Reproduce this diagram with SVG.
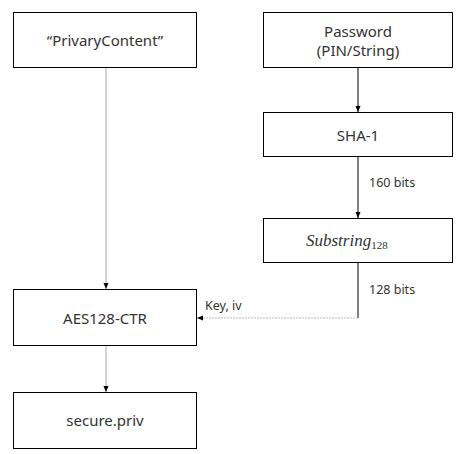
<svg xmlns="http://www.w3.org/2000/svg" width="468" height="454" viewBox="0 0 468 454">
<style>
.box{fill:#fff;stroke:#000;stroke-width:1}
.t{font-family:"Noto Sans","Open Sans",sans-serif;font-size:15px;fill:#333;text-anchor:middle;dominant-baseline:central}
.l{font-family:"Noto Sans","Open Sans",sans-serif;font-size:12.5px;fill:#333;dominant-baseline:central}
.m{font-family:"Liberation Serif","DejaVu Serif",serif;font-style:italic;font-size:17px;fill:#333}
.blk{stroke:#000;stroke-width:1;fill:none}
.gry{stroke:#aaa;stroke-width:1;fill:none}
.dot{stroke:#bbb;stroke-width:1;fill:none;stroke-dasharray:2 1}
</style>
<defs>
<marker id="ah" markerWidth="8" markerHeight="8" refX="7" refY="4" orient="auto" markerUnits="userSpaceOnUse">
<path d="M1,1.5 L7,4 L1,6.5 Z" fill="#000"/>
</marker>
</defs>
<g id="connectors">
<line class="gry" x1="106" y1="67" x2="106" y2="289" marker-end="url(#ah)"/>
<line class="blk" x1="358" y1="67" x2="358" y2="112" marker-end="url(#ah)"/>
<line class="blk" x1="358" y1="157" x2="358" y2="218" marker-end="url(#ah)"/>
<text class="l" x="369" y="182">160 bits</text>
<line class="blk" x1="358" y1="262" x2="358" y2="318"/>
<text class="l" x="369" y="289">128 bits</text>
<line class="dot" x1="358" y1="318" x2="197" y2="318" marker-end="url(#ah)"/>
<text class="l" x="205" y="305">Key, iv</text>
<line class="gry" x1="106" y1="346" x2="106" y2="392" marker-end="url(#ah)"/>
</g>
<g id="privary">
<rect class="box" x="13.5" y="12.5" width="183" height="55"/>
<text class="t" x="105" y="40">“PrivaryContent”</text>
</g>
<g id="password">
<rect class="box" x="263.5" y="12.5" width="189" height="55"/>
<text class="t" x="358" y="31">Password</text>
<text class="t" x="358" y="50">(PIN/String)</text>
</g>
<g id="sha1">
<rect class="box" x="263.5" y="112.5" width="189" height="44"/>
<text class="t" x="358" y="135">SHA-1</text>
</g>
<g id="substring">
<rect class="box" x="263.5" y="218.5" width="189" height="44"/>
<text class="m" x="306" y="246">Substring<tspan font-style="normal" font-size="11" dy="3">128</tspan></text>
</g>
<g id="aes">
<rect class="box" x="13.5" y="289.5" width="183" height="56"/>
<text class="t" x="105" y="318">AES128-CTR</text>
</g>
<g id="secure">
<rect class="box" x="13.5" y="392.5" width="183" height="56"/>
<text class="t" x="105" y="420">secure.priv</text>
</g>
</svg>
